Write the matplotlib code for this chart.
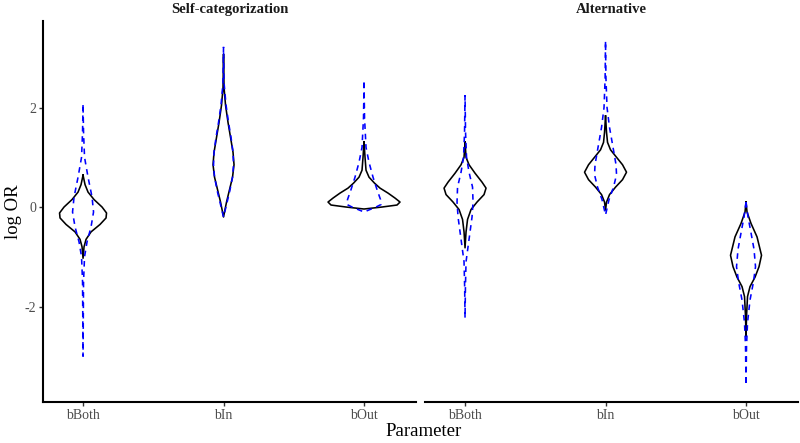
import numpy as np
import matplotlib
matplotlib.use("Agg")
from matplotlib import pyplot as plt

plt.rcParams['font.family'] = ['Liberation Serif', 'DejaVu Serif']

panels = ['Self-categorization', 'Alternative']
params = ['bBoth', 'bIn', 'bOut']

# violin outlines: log OR values and (relative) density half-widths
# posterior = black solid, prior = blue dashed
self_bboth_post_y = [0.64, 0.45, 0.30, 0.15, 0.0, -0.12, -0.22, -0.35, -0.5, -0.65, -0.8, -1.03]
self_bboth_post_d = [0, 2, 5, 11, 19, 23.5, 23, 17, 8, 3, 1, 0]
self_bboth_prior_y = [2.05, 1.5, 1.0, 0.6, 0.2, -0.1, -0.4, -0.7, -1.0, -1.5, -3.0]
self_bboth_prior_d = [0, 0.5, 1.5, 5, 9, 10.5, 8, 4, 1.5, 0.5, 0]

self_bin_post_y = [3.06, 2.4, 2.05, 1.7, 1.4, 1.1, 0.85, 0.6, 0.35, 0.1, -0.1, -0.2]
self_bin_post_d = [0, 0.5, 2, 4.5, 7, 9.5, 10.5, 9, 6, 3, 1, 0]
self_bin_prior_y = [3.22, 2.5, 2.05, 1.7, 1.4, 1.1, 0.85, 0.6, 0.3, 0.05, -0.2]
self_bin_prior_d = [0, 0.5, 2.5, 5, 7.5, 9.5, 10, 9, 6, 3, 0]

self_bout_post_y = [1.31, 1.0, 0.74, 0.6, 0.48, 0.38, 0.28, 0.18, 0.10, 0.04, 0.0, -0.04]
self_bout_post_d = [0, 1, 2, 5, 10.5, 16, 24, 31, 36, 33, 18, 0]
self_bout_prior_y = [2.5, 1.8, 1.2, 0.9, 0.6, 0.35, 0.15, 0.05, 0.0, -0.1]
self_bout_prior_d = [0, 0.5, 2, 5, 9, 13, 16.5, 17, 12, 0]

alt_bboth_post_y = [1.31, 1.0, 0.85, 0.68, 0.5, 0.38, 0.25, 0.1, -0.05, -0.25, -0.5, -0.82]
alt_bboth_post_d = [0, 1, 4, 10, 17, 21, 19, 12, 6, 2.5, 1, 0]
alt_bboth_prior_y = [2.25, 1.5, 1.0, 0.7, 0.4, 0.1, -0.2, -0.5, -0.8, -1.1, -1.6, -2.23]
alt_bboth_prior_d = [0, 0.5, 1.5, 4, 7.5, 8, 7, 5, 3, 1, 0.4, 0]

alt_bin_post_y = [1.83, 1.5, 1.3, 1.15, 1.0, 0.85, 0.70, 0.55, 0.4, 0.25, 0.1, -0.06]
alt_bin_post_d = [0, 1, 2, 5, 11, 17, 21, 17, 10, 4, 1, 0]
alt_bin_prior_y = [3.32, 2.6, 2.0, 1.6, 1.2, 0.85, 0.65, 0.4, 0.15, -0.16]
alt_bin_prior_d = [0, 0.4, 1.5, 4, 7.5, 10.5, 11, 8, 3.5, 0]

alt_bout_post_y = [0.10, -0.1, -0.33, -0.6, -0.97, -1.2, -1.41, -1.6, -1.8, -2.2, -2.6]
alt_bout_post_d = [0, 1, 5, 11, 15.5, 13, 9, 4, 1.5, 0.5, 0]
alt_bout_prior_y = [0.10, -0.2, -0.52, -0.85, -1.2, -1.5, -1.87, -2.33, -2.8, -3.58]
alt_bout_prior_d = [0, 2, 5, 8, 9.5, 7.5, 4, 1.5, 0.5, 0]

violins = {
    'Self-categorization': [
        (self_bboth_post_y, self_bboth_post_d, self_bboth_prior_y, self_bboth_prior_d),
        (self_bin_post_y, self_bin_post_d, self_bin_prior_y, self_bin_prior_d),
        (self_bout_post_y, self_bout_post_d, self_bout_prior_y, self_bout_prior_d),
    ],
    'Alternative': [
        (alt_bboth_post_y, alt_bboth_post_d, alt_bboth_prior_y, alt_bboth_prior_d),
        (alt_bin_post_y, alt_bin_post_d, alt_bin_prior_y, alt_bin_prior_d),
        (alt_bout_post_y, alt_bout_post_d, alt_bout_prior_y, alt_bout_prior_d),
    ],
}

SCALE = 1 / 140.5  # density -> category units


def draw_violin(ax, x0, y, d, **kw):
    y = np.asarray(y, float)
    d = np.asarray(d, float) * SCALE
    xs = np.concatenate([x0 - d, (x0 + d)[::-1], [x0 - d[0]]])
    ys = np.concatenate([y, y[::-1], [y[0]]])
    ax.plot(xs, ys, **kw)


fig = plt.figure(figsize=(8, 4.43), dpi=100)
lefts = [43 / 800, 425 / 800]
tick_gray = '#4D4D4D'

for i, name in enumerate(panels):
    ax = fig.add_axes([lefts[i], 41 / 443, 373 / 800, 381 / 443])
    for j, (py, pd, qy, qd) in enumerate(violins[name]):
        draw_violin(ax, j + 1, py, pd, color='black', lw=1.15, solid_joinstyle='round')
        draw_violin(ax, j + 1, qy, qd, color='#0000FF', lw=1.15, dashes=(3.5, 3))
    ax.set_xlim(0.715, 3.37)
    ax.set_ylim(-3.92, 3.74)
    ax.set_xticks([1, 2, 3])
    ax.set_xticklabels(params, fontsize=10, color=tick_gray)
    ax.set_yticks([-2, 0, 2])
    ax.set_yticklabels(['-2', '0', '2'], fontsize=10, color=tick_gray)
    for s in ['top', 'right']:
        ax.spines[s].set_visible(False)
    ax.spines['bottom'].set_linewidth(1.5)
    ax.spines['left'].set_linewidth(1.5)
    ax.tick_params(length=3, width=1, color='#333333', pad=2)
    if i == 1:
        ax.spines['left'].set_visible(False)
        ax.tick_params(axis='y', left=False, labelleft=False)
    else:
        ax.set_ylabel('log OR', fontsize=13.5, labelpad=2)
    ax.set_title(name, fontsize=10.5, fontweight='bold', pad=6, color='#1A1A1A')

fig.text(424 / 800, 0.007, 'Parameter', ha='center', va='bottom', fontsize=13.5)

fig.savefig('out.png', dpi=100)
